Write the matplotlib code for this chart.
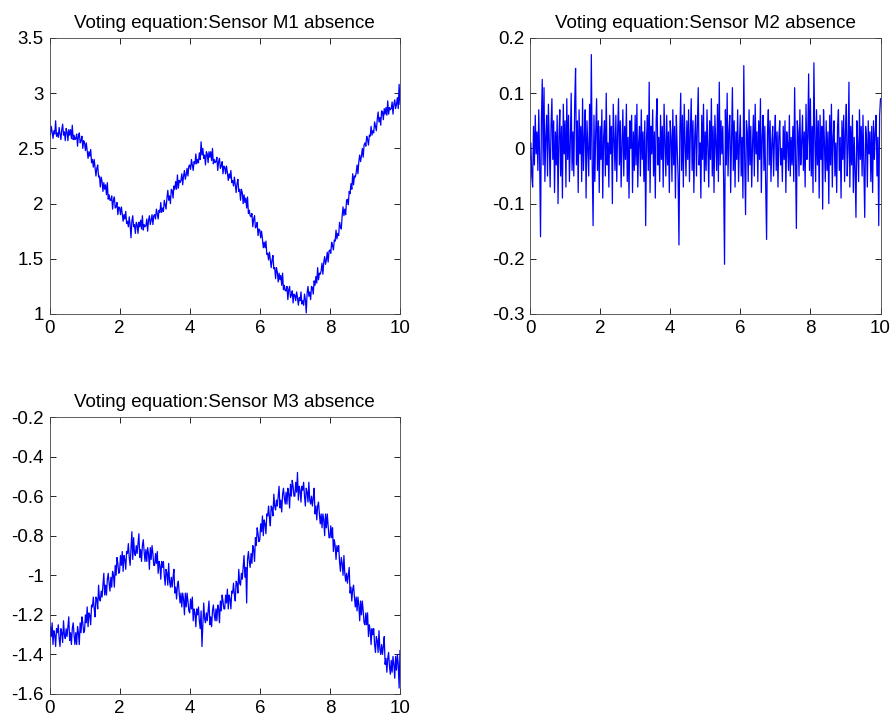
import numpy as np
import matplotlib
matplotlib.use("Agg")
import matplotlib.pyplot as plt

plt.rcParams['font.family'] = ['Liberation Sans', 'DejaVu Sans']

titles = ["Voting equation:Sensor M1 absence",
          "Voting equation:Sensor M2 absence",
          "Voting equation:Sensor M3 absence"]

t = np.linspace(0, 10, 401)

m1 = [2.67, 2.62, 2.70, 2.65, 2.59, 2.66, 2.63, 2.75, 2.61, 2.64,
      2.60, 2.69, 2.63, 2.58, 2.67, 2.72, 2.62, 2.65, 2.57, 2.68,
      2.65, 2.57, 2.67, 2.62, 2.67, 2.59, 2.71, 2.58, 2.62, 2.58,
      2.59, 2.63, 2.52, 2.61, 2.64, 2.55, 2.57, 2.61, 2.50, 2.57,
      2.55, 2.48, 2.55, 2.48, 2.41, 2.47, 2.43, 2.49, 2.37, 2.40,
      2.33, 2.40, 2.32, 2.25, 2.32, 2.35, 2.24, 2.25, 2.15, 2.24,
      2.20, 2.11, 2.19, 2.13, 2.17, 2.08, 2.19, 2.04, 2.08, 2.03,
      2.03, 2.07, 1.95, 2.03, 2.06, 1.96, 1.97, 2.01, 1.90, 1.97,
      1.96, 1.90, 1.97, 1.91, 1.84, 1.90, 1.86, 1.93, 1.82, 1.84,
      1.79, 1.88, 1.81, 1.69, 1.84, 1.89, 1.79, 1.81, 1.73, 1.83,
      1.81, 1.73, 1.83, 1.79, 1.85, 1.77, 1.89, 1.76, 1.81, 1.79,
      1.80, 1.86, 1.75, 1.85, 1.89, 1.81, 1.85, 1.90, 1.81, 1.89,
      1.90, 1.86, 1.95, 1.91, 1.86, 1.94, 1.92, 2.01, 1.92, 1.96,
      1.93, 2.03, 1.99, 1.95, 2.05, 2.12, 2.03, 2.07, 2.00, 2.13,
      2.12, 2.05, 2.16, 2.13, 2.20, 2.13, 2.26, 2.14, 2.21, 2.19,
      2.21, 2.27, 2.17, 2.25, 2.30, 2.22, 2.26, 2.32, 2.25, 2.34,
      2.35, 2.31, 2.40, 2.35, 2.30, 2.38, 2.36, 2.45, 2.36, 2.40,
      2.37, 2.46, 2.40, 2.56, 2.44, 2.50, 2.41, 2.44, 2.35, 2.47,
      2.45, 2.37, 2.47, 2.42, 2.47, 2.39, 2.50, 2.36, 2.40, 2.37,
      2.38, 2.42, 2.30, 2.38, 2.41, 2.32, 2.34, 2.38, 2.27, 2.34,
      2.33, 2.27, 2.34, 2.28, 2.21, 2.27, 2.23, 2.30, 2.19, 2.21,
      2.16, 2.24, 2.17, 2.10, 2.18, 2.22, 2.11, 2.13, 2.03, 2.13,
      2.10, 2.00, 2.08, 2.01, 2.05, 1.96, 2.06, 1.91, 1.94, 1.89,
      1.88, 1.91, 1.79, 1.86, 1.89, 1.78, 1.79, 1.83, 1.71, 1.77,
      1.76, 1.69, 1.75, 1.68, 1.60, 1.65, 1.60, 1.66, 1.54, 1.55,
      1.49, 1.56, 1.49, 1.42, 1.49, 1.53, 1.41, 1.42, 1.32, 1.42,
      1.38, 1.29, 1.37, 1.31, 1.35, 1.26, 1.37, 1.22, 1.26, 1.21,
      1.21, 1.25, 1.13, 1.22, 1.25, 1.15, 1.17, 1.21, 1.10, 1.18,
      1.17, 1.12, 1.20, 1.15, 1.08, 1.15, 1.12, 1.20, 1.09, 1.12,
      1.08, 1.18, 1.13, 1.01, 1.19, 1.25, 1.16, 1.20, 1.13, 1.25,
      1.24, 1.18, 1.30, 1.26, 1.34, 1.28, 1.42, 1.31, 1.37, 1.36,
      1.39, 1.46, 1.36, 1.47, 1.52, 1.45, 1.49, 1.56, 1.47, 1.57,
      1.58, 1.55, 1.65, 1.62, 1.58, 1.67, 1.66, 1.76, 1.68, 1.73,
      1.71, 1.83, 1.79, 1.77, 1.89, 1.97, 1.89, 1.95, 1.90, 2.03,
      2.04, 1.99, 2.11, 2.09, 2.18, 2.13, 2.27, 2.17, 2.25, 2.24,
      2.28, 2.35, 2.27, 2.38, 2.44, 2.38, 2.43, 2.50, 2.42, 2.53,
      2.55, 2.52, 2.61, 2.58, 2.53, 2.62, 2.61, 2.70, 2.62, 2.66,
      2.64, 2.74, 2.70, 2.66, 2.76, 2.83, 2.74, 2.78, 2.71, 2.84,
      2.83, 2.76, 2.86, 2.81, 2.87, 2.80, 2.93, 2.81, 2.87, 2.85,
      2.86, 2.92, 2.81, 2.90, 2.94, 2.86, 2.90, 2.96, 2.86, 3.08,
      2.90]

m2 = [-0.02, 0.01, -0.05, -0.07, 0.04, -0.03, 0.06, -0.01, 0.03, -0.04,
      0.07, -0.02, -0.16, 0.05, 0.125, -0.03, 0.11, -0.06, 0.02, 0.06,
      -0.05, 0.08, 0.01, -0.07, 0.04, 0.09, -0.02, 0.05, -0.08, 0.03,
      -0.03, 0.06, -0.10, 0.02, 0.07, -0.05, 0.04, -0.09, 0.08, -0.01,
      0.05, -0.07, 0.09, -0.02, 0.06, -0.06, 0.01, 0.10, -0.04, 0.03,
      -0.05, 0.08, 0.145, -0.03, 0.05, -0.08, 0.07, -0.01, 0.04, -0.06,
      0.09, -0.04, 0.02, 0.07, -0.09, 0.05, 0.00, -0.05, 0.08, -0.02,
      0.17, -0.03, -0.14, 0.06, -0.06, 0.03, 0.09, -0.04, 0.05, -0.08,
      0.04, -0.02, 0.07, -0.09, 0.02, 0.05, -0.05, 0.10, -0.03, 0.01,
      -0.07, 0.06, -0.01, 0.04, -0.10, 0.08, 0.02, -0.04, 0.06, -0.06,
      0.03, 0.09, -0.03, 0.05, -0.07, 0.01, 0.07, -0.05, 0.04, -0.02,
      0.08, -0.06, 0.02, -0.09, 0.05, 0.00, 0.06, -0.08, 0.03, -0.04,
      0.06, -0.03, 0.08, -0.07, 0.01, 0.04, -0.05, 0.07, -0.02, 0.03,
      -0.06, 0.05, -0.14, 0.02, 0.06, -0.04, 0.12, -0.08, 0.04, -0.01,
      0.07, -0.05, 0.03, -0.09, 0.05, 0.09, -0.03, 0.02, -0.06, 0.06,
      -0.02, 0.04, -0.07, 0.08, 0.01, -0.05, 0.06, -0.03, 0.03, -0.08,
      0.05, 0.02, -0.06, 0.07, -0.03, 0.04, -0.09, 0.06, 0.00, -0.05,
      -0.175, 0.03, 0.10, -0.04, 0.06, -0.07, 0.08, 0.01, -0.05, 0.05,
      -0.02, 0.07, -0.06, 0.03, 0.09, -0.04, 0.05, -0.08, 0.02, 0.06,
      -0.05, 0.04, 0.11, -0.03, 0.01, -0.09, 0.06, -0.02, 0.08, -0.06,
      0.03, -0.04, 0.07, 0.00, -0.07, 0.05, -0.02, 0.09, -0.05, 0.04,
      -0.08, 0.06, 0.01, -0.04, 0.08, -0.06, 0.12, -0.03, 0.05, -0.01,
      0.04, -0.06, -0.21, 0.07, -0.03, 0.10, -0.05, 0.03, 0.06, -0.08,
      0.02, 0.11, -0.04, 0.05, -0.07, 0.03, -0.02, 0.07, -0.06, 0.01,
      0.06, -0.05, 0.02, -0.09, 0.15, -0.02, -0.12, 0.05, 0.03, -0.06,
      0.07, -0.03, 0.04, -0.07, 0.01, 0.06, -0.05, 0.08, -0.01, 0.03,
      -0.06, 0.05, -0.02, 0.09, -0.08, 0.02, 0.06, -0.04, 0.04, -0.07,
      -0.165, 0.03, 0.07, -0.03, 0.05, -0.06, 0.01, 0.04, -0.05, 0.02,
      0.06, -0.04, 0.03, -0.07, 0.02, 0.05, -0.03, 0.00, -0.06, 0.04,
      -0.02, 0.05, -0.08, 0.03, 0.01, -0.04, 0.06, -0.05, 0.02, -0.03,
      0.04, -0.06, 0.11, -0.02, -0.145, 0.05, 0.03, -0.05, 0.07, -0.03,
      0.01, 0.06, -0.04, 0.03, -0.07, 0.08, -0.02, 0.02, 0.135, -0.04,
      0.09, -0.05, 0.04, -0.08, 0.155, 0.02, -0.06, 0.07, -0.03, 0.05,
      -0.09, 0.06, -0.02, 0.04, -0.11, 0.07, 0.01, -0.06, 0.05, -0.04,
      0.03, -0.10, 0.06, -0.03, 0.08, -0.07, 0.02, 0.05, -0.05, 0.01,
      -0.08, 0.04, 0.07, -0.04, 0.02, -0.09, 0.05, -0.02, 0.06, -0.06,
      0.03, 0.08, -0.05, 0.00, 0.12, -0.07, 0.04, -0.03, 0.06, -0.08,
      0.02, -0.04, -0.125, 0.05, 0.01, -0.06, 0.07, -0.02, 0.04, -0.05,
      0.06, -0.03, -0.125, 0.04, 0.02, -0.07, 0.05, -0.01, 0.03, -0.06,
      0.04, -0.08, 0.05, -0.02, 0.03, 0.06, -0.05, 0.02, -0.14, 0.06,
      0.09]

m3 = [-1.33, -1.26, -1.31, -1.24, -1.35, -1.28, -1.30, -1.36, -1.27, -1.29,
      -1.25, -1.32, -1.36, -1.27, -1.29, -1.34, -1.23, -1.30, -1.32, -1.27,
      -1.31, -1.26, -1.21, -1.33, -1.29, -1.35, -1.27, -1.24, -1.30, -1.35,
      -1.29, -1.35, -1.26, -1.29, -1.35, -1.24, -1.29, -1.21, -1.24, -1.29,
      -1.28, -1.20, -1.24, -1.16, -1.26, -1.19, -1.20, -1.25, -1.15, -1.16,
      -1.11, -1.17, -1.21, -1.11, -1.12, -1.17, -1.05, -1.12, -1.13, -1.08,
      -1.11, -1.05, -0.99, -1.10, -1.05, -1.10, -1.02, -0.99, -1.04, -1.08,
      -1.01, -1.06, -0.98, -1.00, -1.06, -0.95, -1.00, -0.91, -0.94, -0.99,
      -0.98, -0.90, -0.95, -0.88, -0.98, -0.90, -0.92, -0.97, -0.88, -0.89,
      -0.84, -0.91, -0.95, -0.86, -0.78, -0.92, -0.81, -0.89, -0.90, -0.85,
      -0.89, -0.84, -0.79, -0.91, -0.87, -0.93, -0.85, -0.82, -0.88, -0.93,
      -0.87, -0.93, -0.86, -0.89, -0.97, -0.86, -0.92, -0.85, -0.89, -0.95,
      -0.95, -0.89, -0.94, -0.88, -0.99, -0.93, -0.95, -1.02, -0.93, -0.96,
      -0.93, -1.00, -1.05, -0.97, -0.99, -1.05, -0.94, -1.03, -1.06, -1.01,
      -1.06, -1.01, -0.97, -1.09, -1.06, -1.12, -1.05, -1.03, -1.09, -1.14,
      -1.09, -1.16, -1.09, -1.12, -1.20, -1.09, -1.16, -1.09, -1.13, -1.18,
      -1.19, -1.12, -1.17, -1.11, -1.23, -1.17, -1.19, -1.26, -1.17, -1.20,
      -1.16, -1.23, -1.27, -1.18, -1.36, -1.25, -1.14, -1.22, -1.24, -1.19,
      -1.23, -1.18, -1.13, -1.25, -1.21, -1.26, -1.18, -1.15, -1.20, -1.23,
      -1.17, -1.23, -1.15, -1.17, -1.24, -1.13, -1.18, -1.10, -1.13, -1.17,
      -1.17, -1.10, -1.14, -1.07, -1.17, -1.10, -1.12, -1.17, -1.08, -1.09,
      -1.04, -1.10, -1.13, -1.03, -1.04, -1.09, -0.97, -1.04, -1.05, -0.99,
      -1.02, -0.96, -0.90, -1.01, -0.96, -1.14, -0.92, -0.88, -0.93, -0.96,
      -0.89, -0.94, -0.85, -0.87, -0.93, -0.81, -0.85, -0.76, -0.79, -0.83,
      -0.82, -0.74, -0.78, -0.70, -0.80, -0.72, -0.74, -0.79, -0.69, -0.70,
      -0.65, -0.71, -0.75, -0.65, -0.66, -0.70, -0.59, -0.65, -0.67, -0.62,
      -0.65, -0.60, -0.55, -0.66, -0.62, -0.68, -0.59, -0.56, -0.61, -0.64,
      -0.58, -0.64, -0.56, -0.59, -0.66, -0.54, -0.60, -0.52, -0.55, -0.60,
      -0.60, -0.53, -0.58, -0.48, -0.62, -0.55, -0.57, -0.63, -0.55, -0.57,
      -0.53, -0.60, -0.65, -0.56, -0.58, -0.63, -0.53, -0.62, -0.64, -0.60,
      -0.65, -0.61, -0.56, -0.69, -0.65, -0.72, -0.65, -0.63, -0.69, -0.74,
      -0.69, -0.76, -0.69, -0.72, -0.80, -0.69, -0.76, -0.69, -0.75, -0.81,
      -0.81, -0.75, -0.81, -0.76, -0.88, -0.82, -0.85, -0.92, -0.85, -0.88,
      -0.85, -0.93, -0.98, -0.91, -0.94, -1.00, -0.90, -0.99, -1.03, -0.99,
      -1.04, -1.00, -0.96, -1.09, -1.06, -1.13, -1.07, -1.05, -1.11, -1.16,
      -1.11, -1.18, -1.11, -1.15, -1.23, -1.13, -1.20, -1.13, -1.18, -1.24,
      -1.25, -1.19, -1.25, -1.19, -1.31, -1.25, -1.28, -1.35, -1.27, -1.30,
      -1.27, -1.35, -1.39, -1.31, -1.33, -1.39, -1.28, -1.37, -1.40, -1.35,
      -1.40, -1.36, -1.31, -1.45, -1.42, -1.49, -1.42, -1.39, -1.46, -1.50,
      -1.43, -1.49, -1.41, -1.45, -1.52, -1.41, -1.48, -1.40, -1.45, -1.57,
      -1.38]

ylims = [(1, 3.5), (-0.3, 0.2), (-1.6, -0.2)]
yticks = [[1, 1.5, 2, 2.5, 3, 3.5],
          [-0.3, -0.2, -0.1, 0, 0.1, 0.2],
          [-1.6, -1.4, -1.2, -1, -0.8, -0.6, -0.4, -0.2]]
xticks = [0, 2, 4, 6, 8, 10]

fig = plt.figure(figsize=(8.94, 7.21), dpi=100)
W, H = 894, 721
boxes = [(49.5, 38, 400, 314), (530, 38, 880.5, 314), (49.5, 417, 400, 694)]
series = [m1, m2, m3]

for box, y, title, yl, yt in zip(boxes, series, titles, ylims, yticks):
    x0, y0, x1, y1 = box
    ax = fig.add_axes([x0 / W, (H - y1) / H, (x1 - x0) / W, (y1 - y0) / H])
    ax.plot(t, y, color='#0000ff', lw=0.9)
    ax.set_xlim(0, 10)
    ax.set_ylim(*yl)
    ax.set_xticks(xticks)
    ax.set_xticklabels(['%g' % v for v in xticks])
    ax.set_yticks(yt)
    ax.set_yticklabels(['%g' % v for v in yt])
    ax.tick_params(direction='in', top=True, right=True, length=4, width=0.6,
                   labelsize=13.5, colors='black', pad=4)
    for sp in ax.spines.values():
        sp.set_linewidth(0.6)
        sp.set_color('#444444')
    ax.set_title(title, fontsize=13.5, pad=7)

fig.savefig('out.png', dpi=100)
